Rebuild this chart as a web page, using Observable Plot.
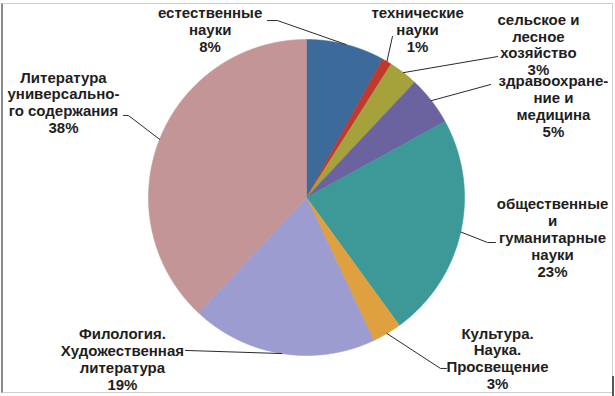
<!DOCTYPE html>
<html>
<head>
<meta charset="utf-8">
<script src="https://cdn.jsdelivr.net/npm/d3@7"></script>
<script src="https://cdn.jsdelivr.net/npm/@observablehq/plot@0.6"></script>
<style>
  html, body { margin: 0; padding: 0; background: #fff; }
  #wrap { position: relative; width: 615px; height: 396px; overflow: hidden; }
  #frame { position: absolute; left: 1px; top: 3px; width: 609px; height: 388px;
           border-top: 1px solid #cfcfcf; border-right: 1px solid #cfcfcf;
           border-bottom: 1px solid #cfcfcf; border-left: 2px solid #8a8a8a; pointer-events: none; }
  #tick { position: absolute; left: 612px; top: 376px; width: 2px; height: 20px; background: #555; }
  svg { position: absolute; left: 0; top: 0; }
</style>
</head>
<body>
<div id="wrap"><div id="frame"></div><div id="tick"></div><div id="chart"></div></div>
<script>
// ---- data ----
const categories = [
  "естественные науки",
  "технические науки",
  "сельское и лесное хозяйство",
  "здравоохранение и медицина",
  "общественные и гуманитарные науки",
  "Культура. Наука. Просвещение",
  "Филология. Художественная литература",
  "Литература универсального содержания"
];
const shares = [8, 1, 3, 5, 23, 3, 19, 38];
const labelTexts = [
  "естественные\nнауки\n8%",
  "технические\nнауки\n1%",
  "сельское и\nлесное\nхозяйство\n3%",
  "здравоохране-\nние и\nмедицина\n5%",
  "общественные\nи\nгуманитарные\nнауки\n23%",
  "Культура.\nНаука.\nПросвещение\n3%",
  "Филология.\nХудожественная\nлитература\n19%",
  "Литература\nуниверсально-\nго содержания\n38%"
];

// ---- styles / layout (not data) ----
const colors = ["#3b6a9b", "#c0392f", "#a6a23b", "#6a639f", "#3c9997", "#dfa03f", "#9c9cd0", "#c49596"];
// label block centres, in pie-radius units
const labelPos = [
  [-0.61, 1.063], [0.703, 1.063], [1.468, 0.968], [1.563, 0.576],
  [1.557, -0.253], [1.209, -1.019], [-1.165, -1.022], [-1.538, 0.601]
];
// leader line ends (after the arc point), in pie-radius units
const leaderEnds = [
  [[-0.184, 1.12], [-0.247, 1.12]],
  [[0.544, 1.019]],
  [[1.209, 0.892]],
  [[1.165, 0.715]],
  [[1.146, -0.285], [1.196, -0.285]],
  [[0.848, -1.082], [0.886, -1.082]],
  [[-0.766, -0.968]],
  [[-1.127, 0.519], [-1.158, 0.519]]
];

// ---- build pie geometry from the data ----
const pie = d3.pie().sort(null).value(d => d)(shares);
const slices = [];
const leaders = [];
const labels = [];
pie.forEach((p, i) => {
  const name = categories[i];
  slices.push({name, x: 0, y: 0});
  const steps = Math.max(2, Math.ceil((p.endAngle - p.startAngle) / 0.005));
  for (let k = 0; k <= steps; k++) {
    const a = p.startAngle + (p.endAngle - p.startAngle) * k / steps;
    slices.push({name, x: Math.sin(a), y: Math.cos(a)});
  }
  slices.push({name, x: 0, y: 0});
  const mid = (p.startAngle + p.endAngle) / 2;
  leaders.push({name, x: Math.sin(mid), y: Math.cos(mid)});
  leaderEnds[i].forEach(([x, y]) => leaders.push({name, x, y}));
  labels.push({name, text: labelTexts[i], x: labelPos[i][0], y: labelPos[i][1]});
});

const chart = Plot.plot({
  width: 615,
  height: 396,
  marginLeft: 148,
  marginRight: 151,
  marginTop: 39,
  marginBottom: 41,
  x: {domain: [-1, 1], axis: null},
  y: {domain: [-1, 1], axis: null},
  color: {domain: categories, range: colors},
  style: {background: "transparent", overflow: "visible"},
  marks: [
    Plot.line(slices, {x: "x", y: "y", z: "name", fill: "name", stroke: "name", strokeWidth: 0.6, curve: "linear"}),
    Plot.line(leaders, {x: "x", y: "y", z: "name", stroke: "#2a2a2a", strokeWidth: 1, curve: "linear"}),
    Plot.text(labels, {
      x: "x", y: "y", text: "text",
      textAnchor: "middle", lineAnchor: "middle", lineHeight: 1.13,
      fontSize: 15, fontWeight: "bold", fill: "#1e1e1e",
      fontFamily: "'Liberation Sans', Arial, sans-serif"
    })
  ]
});
document.getElementById("chart").appendChild(chart);
</script>
</body>
</html>
